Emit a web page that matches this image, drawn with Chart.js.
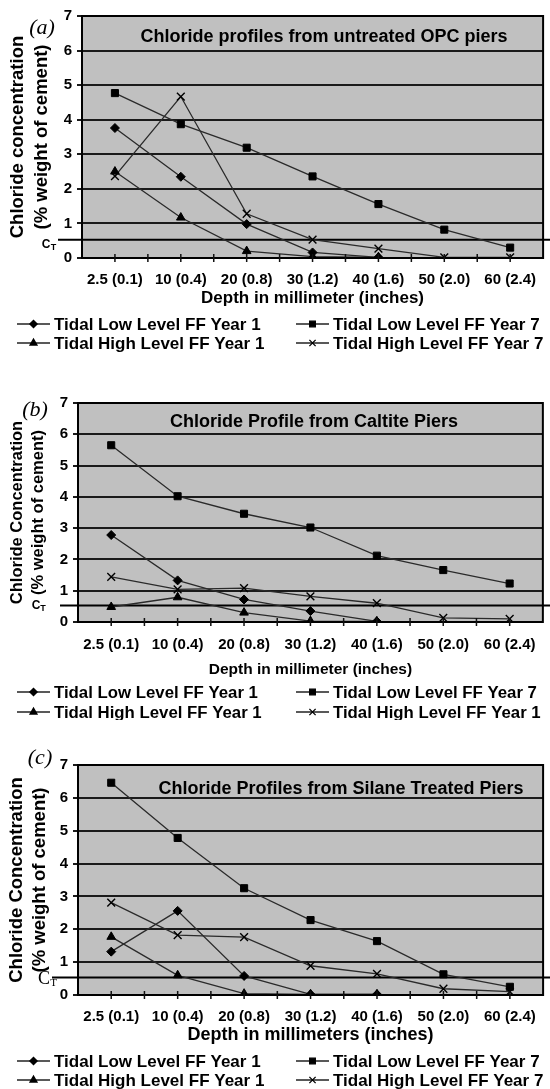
<!DOCTYPE html>
<html>
<head>
<meta charset="utf-8">
<script src="https://cdn.jsdelivr.net/npm/chart.js@4.4.1/dist/chart.umd.min.js"></script>
<style>
  html, body { margin: 0; padding: 0; background: #fff; }
  #page { position: relative; width: 550px; height: 1089px; overflow: hidden; }
  canvas { position: absolute; left: 0; }
</style>
</head>
<body>
<div id="page">
  <canvas id="chartA" width="550" height="355" style="top:0px"></canvas>
  <canvas id="chartB" width="550" height="360" style="top:360px"></canvas>
  <canvas id="chartC" width="550" height="369" style="top:720px"></canvas>
</div>
<script>
// depth categories shared by all three panels
const depthLabels = ['2.5 (0.1)', '10 (0.4)', '20 (0.8)', '30 (1.2)', '40 (1.6)', '50 (2.0)', '60 (2.4)'];
const yMax = 7;
const thresholdCT = 0.53;

// (a) untreated OPC piers
const opcLowY1 = [3.76, 2.35, 0.98, 0.16, 0.02, null, null];
const opcLowY7 = [4.77, 3.87, 3.19, 2.36, 1.56, 0.82, 0.3];
const opcHighY1 = [2.5, 1.17, 0.2, 0.04, 0.02, null, null];
const opcHighY7 = [2.37, 4.67, 1.28, 0.53, 0.27, 0.02, 0.02];

// (b) Caltite piers
const caltiteLowY1 = [2.78, 1.33, 0.72, 0.35, 0.02, null, null];
const caltiteLowY7 = [5.65, 4.02, 3.46, 3.02, 2.12, 1.66, 1.23];
const caltiteHighY1 = [0.48, 0.79, 0.3, 0.03, 0.02, null, null];
const caltiteHighY7 = [1.44, 1.04, 1.08, 0.82, 0.6, 0.13, 0.1];

// (c) silane treated piers
const silaneLowY1 = [1.32, 2.56, 0.58, 0.02, 0.02, null, null];
const silaneLowY7 = [6.46, 4.78, 3.25, 2.28, 1.64, 0.63, 0.25];
const silaneHighY1 = [1.77, 0.6, 0.04, 0.02, 0.02, null, null];
const silaneHighY7 = [2.81, 1.82, 1.76, 0.89, 0.64, 0.19, 0.1];

const legendA = ['Tidal Low Level FF Year 1', 'Tidal Low Level FF Year 7', 'Tidal High Level FF Year 1', 'Tidal High Level FF Year 7'];
const legendB = ['Tidal Low Level FF Year 1', 'Tidal Low Level FF Year 7', 'Tidal High Level FF Year 1', 'Tidal High Level FF Year 1'];
const legendC = legendA;

const SANS = '"Liberation Sans", Arial, Helvetica, sans-serif';
const SERIF = '"Liberation Serif", "Times New Roman", serif';

const markerStyles = [
    { pointStyle: 'rectRot', radius: 4.5 },
    { pointStyle: 'rect', radius: 5 },
    { pointStyle: 'triangle', radius: 5 },
    { pointStyle: 'crossRot', radius: 5.5 },
];

const decorPlugin = {
    id: 'decor',
    beforeDraw(chart) {
        const { ctx, chartArea: a } = chart;
        ctx.save();
        ctx.fillStyle = '#c0c0c0';
        ctx.fillRect(a.left, a.top, a.right - a.left, a.bottom - a.top);
        ctx.restore();
    },
    beforeDatasetsDraw(chart, args, opts) {
        const { ctx } = chart;
        const yPix = chart.scales.y.getPixelForValue(thresholdCT);
        ctx.save();
        ctx.strokeStyle = '#000';
        ctx.lineWidth = 2;
        ctx.beginPath();
        ctx.moveTo(opts.ct.lineStart, yPix);
        ctx.lineTo(chart.width, yPix);
        ctx.stroke();
        ctx.restore();
    },
    afterDraw(chart, args, opts) {
        const { ctx, chartArea: a } = chart;
        const x = chart.scales.x;
        const y = chart.scales.y;
        ctx.save();

        // frame round the plot
        ctx.strokeStyle = '#000';
        ctx.lineWidth = 2;
        ctx.strokeRect(a.left, a.top, a.right - a.left, a.bottom - a.top);

        // x tick marks at categories and between them
        ctx.lineWidth = 1.5;
        ctx.strokeStyle = '#111';
        ctx.beginPath();
        const n = chart.data.labels.length;
        for (let i = 0; i < n; i++) {
            const px = x.getPixelForValue(i);
            ctx.moveTo(px, a.bottom - 4);
            ctx.lineTo(px, a.bottom + 4);
            if (i > 0) {
                const mid = (px + x.getPixelForValue(i - 1)) / 2;
                ctx.moveTo(mid, a.bottom - 4);
                ctx.lineTo(mid, a.bottom + 4);
            }
        }
        ctx.stroke();

        // title inside plot
        ctx.fillStyle = '#000';
        ctx.textAlign = 'center';
        ctx.textBaseline = 'middle';
        ctx.font = 'bold 18px ' + SANS;
        ctx.fillText(opts.title.text, opts.title.x, opts.title.y);

        // panel letter
        ctx.font = 'italic 22px ' + SERIF;
        ctx.fillText(opts.panel.text, opts.panel.x, opts.panel.y);

        // C_T label
        const yCT = y.getPixelForValue(thresholdCT);
        const ct = opts.ct;
        ctx.font = (ct.serif ? '' : 'bold ') + ct.size + 'px ' + (ct.serif ? SERIF : SANS);
        ctx.fillText('C', ct.cx, yCT + ct.cdy);
        ctx.font = (ct.serif ? '' : 'bold ') + ct.subSize + 'px ' + (ct.serif ? SERIF : SANS);
        ctx.fillText('T', ct.tx, yCT + ct.tdy);

        // legend, two columns
        const lg = opts.legend;
        ctx.textAlign = 'left';
        ctx.font = 'bold ' + lg.size + 'px ' + SANS;
        chart.data.datasets.forEach((ds, i) => {
            const lx = lg.cols[i % 2];
            const ly = lg.rows[Math.floor(i / 2)];
            ctx.strokeStyle = '#222';
            ctx.lineWidth = 1.3;
            ctx.beginPath();
            ctx.moveTo(lx, ly);
            ctx.lineTo(lx + 33, ly);
            ctx.stroke();
            ctx.fillStyle = '#000';
            ctx.strokeStyle = '#000';
            Chart.helpers.drawPoint(ctx, {
                pointStyle: ds.pointStyle,
                radius: ds.pointRadius * 0.8,
                rotation: 0,
                borderWidth: 1.2,
            }, lx + 16.5, ly);
            ctx.fillStyle = '#000';
            ctx.fillText(ds.label, lx + 37, ly + 1);
        });
        ctx.restore();
    },
};

function buildPanel(canvasId, series, names, cfg) {
    const datasets = series.map((values, i) => ({
        label: names[i],
        data: values,
        borderColor: '#2a2a2a',
        borderWidth: 1.3,
        backgroundColor: '#000',
        pointBackgroundColor: '#000',
        pointBorderColor: '#000',
        pointBorderWidth: markerStyles[i].pointStyle === 'crossRot' ? 1.4 : 1,
        pointStyle: markerStyles[i].pointStyle,
        pointRadius: markerStyles[i].radius,
        tension: 0,
        fill: false,
    }));

    return new Chart(document.getElementById(canvasId), {
        type: 'line',
        data: { labels: depthLabels, datasets },
        options: {
            responsive: false,
            animation: false,
            devicePixelRatio: 1,
            layout: { padding: cfg.padding },
            plugins: {
                legend: { display: false },
                tooltip: { enabled: false },
                decor: cfg.decor,
            },
            scales: {
                x: {
                    type: 'category',
                    offset: true,
                    grid: { display: false, drawTicks: false, tickLength: 0 },
                    border: { display: true, color: '#000', width: 2 },
                    ticks: {
                        color: '#000',
                        padding: cfg.xTickPad,
                        maxRotation: 0,
                        autoSkip: false,
                        font: { family: SANS, size: 15, weight: 'bold', lineHeight: '18px' },
                    },
                    title: {
                        display: true,
                        text: cfg.xTitle.text,
                        color: '#000',
                        padding: { top: 0, bottom: cfg.xTitle.pad },
                        font: { family: SANS, size: cfg.xTitle.size, weight: 'bold', lineHeight: cfg.xTitle.lh + 'px' },
                    },
                    afterFit(scale) { scale.height = cfg.xHeight; },
                },
                y: {
                    min: 0,
                    max: yMax,
                    ticks: {
                        stepSize: 1,
                        color: '#000',
                        padding: 5,
                        font: { family: SANS, size: 15, weight: 'bold' },
                    },
                    grid: { color: '#1a1a1a', lineWidth: 2, tickLength: 5, drawOnChartArea: true },
                    border: { display: true, color: '#000', width: 2 },
                    title: {
                        display: true,
                        text: cfg.yTitle.text,
                        color: '#000',
                        padding: { top: cfg.yTitle.pad, bottom: 0 },
                        font: { family: SANS, size: cfg.yTitle.size, weight: 'bold', lineHeight: cfg.yTitle.lh + 'px' },
                    },
                    afterFit(scale) { scale.width = cfg.yWidth; },
                },
            },
        },
        plugins: [decorPlugin],
    });
}

buildPanel('chartA', [opcLowY1, opcLowY7, opcHighY1, opcHighY7], legendA, {
    padding: { top: 16, left: 0, right: 1, bottom: 45 },
    yWidth: 82,
    xHeight: 52,
    xTickPad: 13,
    xTitle: { text: 'Depth in millimeter (inches)', size: 17, lh: 20, pad: 2 },
    yTitle: { text: ['Chloride concentration', '(% weight of cement)'], size: 18.5, lh: 24, pad: 6 },
    decor: {
        title: { text: 'Chloride profiles from untreated OPC piers', x: 324, y: 37 },
        panel: { text: '(a)', x: 42, y: 28 },
        ct: { lineStart: 58, serif: false, size: 12, subSize: 9, cx: 46, cdy: 5, tx: 53.5, tdy: 8 },
        legend: { size: 17, cols: [17, 296], rows: [324, 343] },
    },
});

buildPanel('chartB', [caltiteLowY1, caltiteLowY7, caltiteHighY1, caltiteHighY7], legendB, {
    padding: { top: 43, left: 0, right: 2, bottom: 40 },
    yWidth: 78,
    xHeight: 58,
    xTickPad: 14,
    xTitle: { text: 'Depth in millimeter (inches)', size: 15.5, lh: 18, pad: 1 },
    yTitle: { text: ['Chloride Concentration', '(% weight of cement)'], size: 16.5, lh: 21, pad: 6.5 },
    decor: {
        title: { text: 'Chloride Profile from Caltite Piers', x: 314, y: 62 },
        panel: { text: '(b)', x: 35, y: 50 },
        ct: { lineStart: 60, serif: false, size: 12, subSize: 9, cx: 36, cdy: 0, tx: 43, tdy: 3 },
        legend: { size: 16.8, cols: [17, 296], rows: [332, 352] },
    },
});

buildPanel('chartC', [silaneLowY1, silaneLowY7, silaneHighY1, silaneHighY7], legendC, {
    padding: { top: 45, left: 0, right: 6, bottom: 42 },
    yWidth: 78,
    xHeight: 52,
    xTickPad: 13,
    xTitle: { text: 'Depth in millimeters (inches)', size: 18, lh: 20, pad: 2 },
    yTitle: { text: ['Chloride Concentration', '(% weight of cement)'], size: 18.5, lh: 23, pad: 5.5 },
    decor: {
        title: { text: 'Chloride Profiles from Silane Treated Piers', x: 341, y: 69 },
        panel: { text: '(c)', x: 40, y: 38 },
        ct: { lineStart: 52, serif: true, size: 18, subSize: 11, cx: 44, cdy: 2, tx: 53.5, tdy: 6 },
        legend: { size: 17, cols: [17, 296], rows: [341, 360] },
    },
});
</script>
</body>
</html>
